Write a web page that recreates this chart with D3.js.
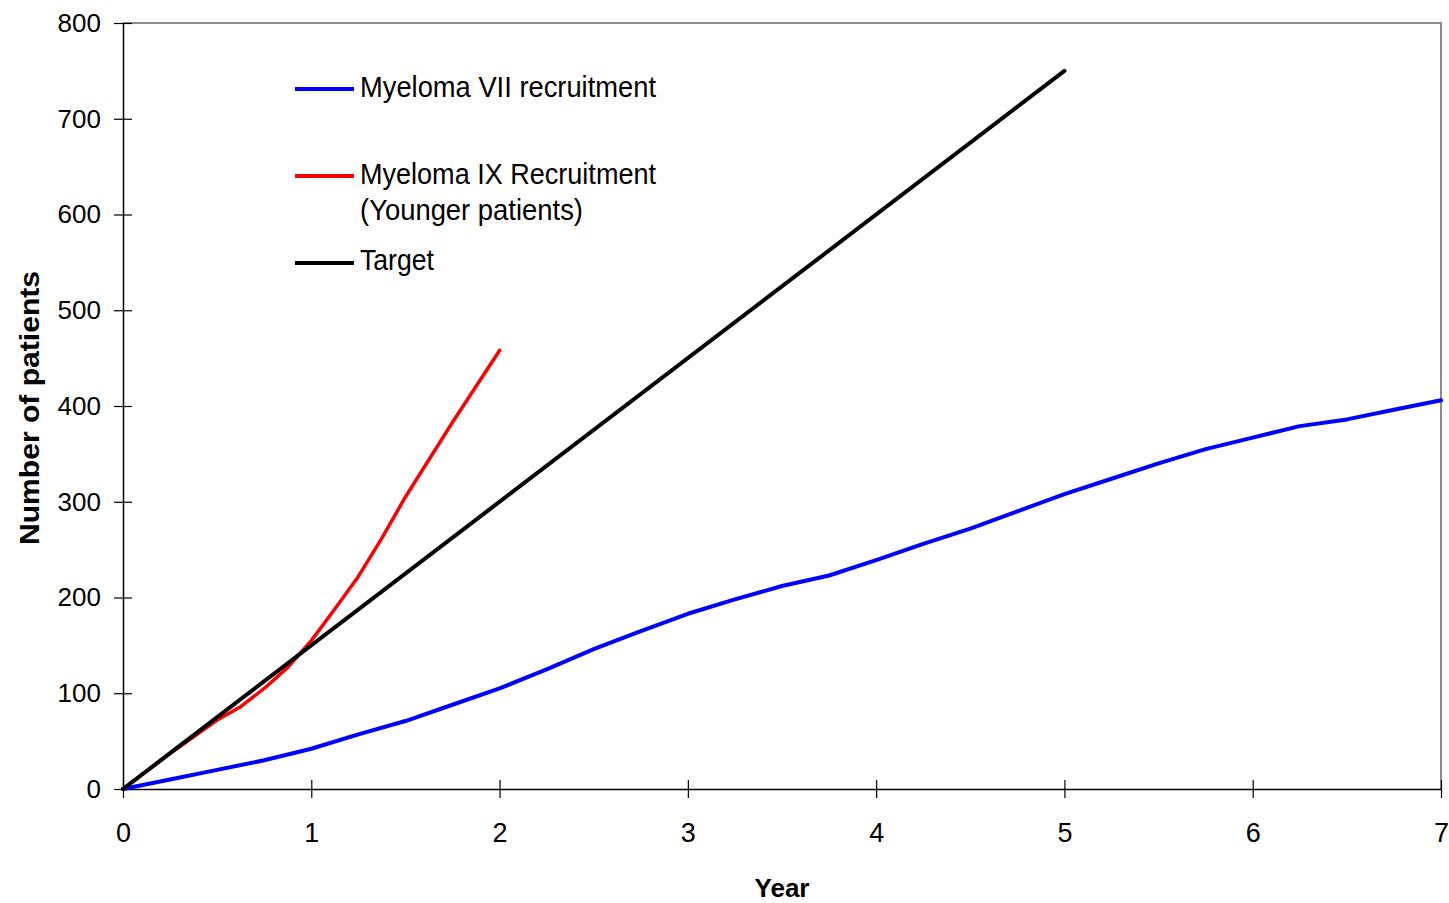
<!doctype html>
<html lang="en">
<head>
  <meta charset="UTF-8">
  <title>Myeloma recruitment</title>
  <style>
    body { margin: 0; background: #fff; }
    #app { width: 1449px; height: 903px; }
    text { font-family: "Liberation Sans", Arial, sans-serif; fill: #000; }
  </style>
</head>
<body>
<div id="app"></div>
<script src="https://cdn.jsdelivr.net/npm/d3@7"></script>
<script>
  // years and patient counts
  var blueYears = [0, 0.25, 0.5, 0.75, 1, 1.25, 1.5, 1.75, 2, 2.25, 2.5, 2.75, 3, 3.25, 3.5, 3.75,
                   4, 4.25, 4.5, 4.75, 5, 5.25, 5.5, 5.75, 6, 6.25, 6.5, 6.75, 7];
  var blueValues = [0, 10, 20, 30, 42, 57, 71, 88, 105, 125, 146, 165, 183, 198, 212, 223,
                    239, 256, 272, 290, 308, 324, 340, 355, 367, 379, 386, 396, 406];
  var redYears = [0, 0.25, 0.5, 0.625, 0.75, 0.875, 1, 1.125, 1.25, 1.375, 1.5, 1.75, 2];
  var redValues = [0, 37, 72, 86, 105, 127, 155, 188, 222, 262, 305, 383, 458];
  var targetYears = [0, 5];
  var targetValues = [0, 750];
  var xTicks = [0, 1, 2, 3, 4, 5, 6, 7];
  var yTicks = [0, 100, 200, 300, 400, 500, 600, 700, 800];
  var seriesNames = ['Myeloma VII recruitment', 'Myeloma IX Recruitment', 'Target'];
  var seriesColors = ['#0000ff', '#ff0000', '#000000'];

  var width = 1449;
  var height = 903;
  var margin = {left: 123, right: 8, top: 23, bottom: 114};

  var svg = d3.select('#app')
              .append('svg')
              .attr('width', width)
              .attr('height', height);

  var x = d3.scaleLinear().domain([0, 7]).range([margin.left, width - margin.right]);
  var y = d3.scaleLinear().domain([0, 800]).range([height - margin.bottom, margin.top]);

  // grey frame on top and right
  svg.append('path')
    .attr('d', 'M' + x(0) + ',' + y(800) + 'H' + x(7) + 'V' + y(0))
    .attr('fill', 'none')
    .attr('stroke', '#8c8c8c')
    .attr('stroke-width', 2);

  var yAxis = svg.append('g')
    .attr('transform', 'translate(' + x(0) + ',0)')
    .call(d3.axisLeft(y).tickValues(yTicks).tickSize(9).tickSizeOuter(0).tickPadding(13));
  yAxis.selectAll('.tick line').attr('x1', -9).attr('x2', 9);
  yAxis.selectAll('text').style('font-size', '26px');

  var xAxis = svg.append('g')
    .attr('transform', 'translate(0,' + y(0) + ')')
    .call(d3.axisBottom(x).tickValues(xTicks).tickFormat(d3.format('d'))
      .tickSize(9).tickSizeOuter(0).tickPadding(25));
  xAxis.selectAll('.tick line').attr('y1', -9).attr('y2', 9);
  xAxis.selectAll('text').style('font-size', '27px');

  svg.selectAll('.domain').attr('stroke', '#000').attr('stroke-width', 1.5);
  svg.selectAll('.tick line').attr('stroke', '#000').attr('stroke-width', 1.2);
  svg.selectAll('.tick text').attr('fill', '#000');

  var line = d3.line()
    .x(d => x(d[0]))
    .y(d => y(d[1]));

  var series = [
    {name: seriesNames[0], color: seriesColors[0], width: 4, points: d3.zip(blueYears, blueValues)},
    {name: seriesNames[1], color: seriesColors[1], width: 3.5, points: d3.zip(redYears, redValues)},
    {name: seriesNames[2], color: seriesColors[2], width: 4, points: d3.zip(targetYears, targetValues)}
  ];

  svg.selectAll('path.series')
    .data(series)
    .enter()
    .append('path')
    .attr('class', 'series')
    .attr('d', d => line(d.points))
    .attr('fill', 'none')
    .attr('stroke', d => d.color)
    .attr('stroke-width', d => d.width)
    .attr('stroke-linejoin', 'round')
    .attr('stroke-linecap', 'round');

  // legend
  var legendRows = [
    {y: 89, color: seriesColors[0], lines: [[seriesNames[0], 97, 296]]},
    {y: 176, color: seriesColors[1], lines: [[seriesNames[1], 184, 296], ['(Younger patients)', 220, 223]]},
    {y: 263, color: seriesColors[2], lines: [[seriesNames[2], 270, 74]]}
  ];
  var legend = svg.append('g');
  legendRows.forEach(function(r) {
    legend.append('line')
      .attr('x1', 295).attr('x2', 354)
      .attr('y1', r.y).attr('y2', r.y)
      .attr('stroke', r.color)
      .attr('stroke-width', 4);
    r.lines.forEach(function(t) {
      legend.append('text')
        .attr('x', 360)
        .attr('y', t[1])
        .attr('textLength', t[2])
        .attr('lengthAdjust', 'spacingAndGlyphs')
        .style('font-size', '29px')
        .text(t[0]);
    });
  });

  // axis titles
  svg.append('text')
    .attr('x', 782)
    .attr('y', 897)
    .attr('text-anchor', 'middle')
    .style('font-size', '26px')
    .style('font-weight', 'bold')
    .text('Year');

  svg.append('text')
    .attr('transform', 'translate(39,' + 408 + ') rotate(-90)')
    .attr('text-anchor', 'middle')
    .attr('textLength', 274)
    .attr('lengthAdjust', 'spacingAndGlyphs')
    .style('font-size', '28px')
    .style('font-weight', 'bold')
    .text('Number of patients');
</script>
</body>
</html>
